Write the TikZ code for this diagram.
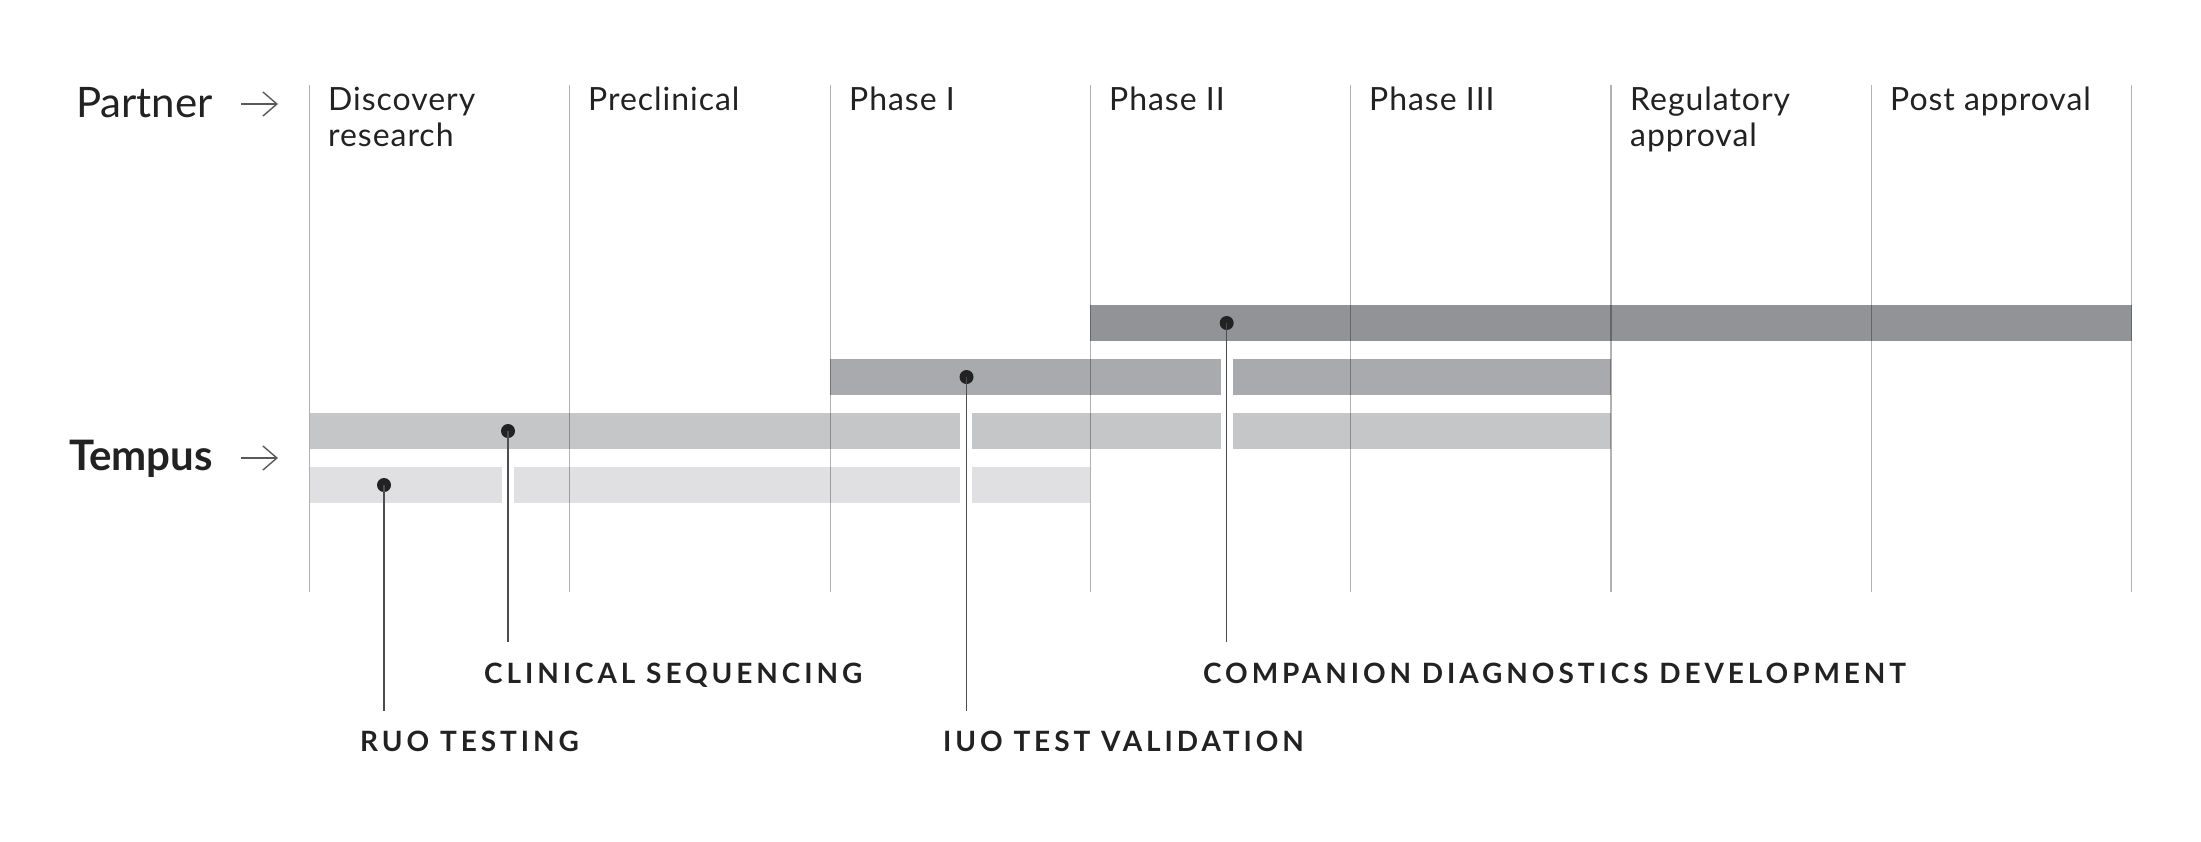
\documentclass[tikz,border=0pt]{standalone}
\usepackage{fontspec}
\setmainfont{Lato}
\newfontfamily\calloutfont[LetterSpace=14]{Lato}
\newfontfamily\phasefont[LetterSpace=3]{Lato}
\usetikzlibrary{positioning,arrows.meta}

\definecolor{barA}{HTML}{929397}
\definecolor{barB}{HTML}{A9AAAD}
\definecolor{barC}{HTML}{C5C6C8}
\definecolor{barD}{HTML}{E0E0E2}
\definecolor{ink}{HTML}{222222}

\begin{document}
\begin{tikzpicture}[x=1pt,y=-1pt,
    phase/.style={
        anchor=north west,
        align=left,
        inner sep=0pt,
        text=ink,
        font=\phasefont\fontsize{32}{36}\selectfont
    },
    side/.style={
        anchor=base east,
        inner sep=0pt,
        text=ink,
        font=\fontsize{42}{46}\selectfont
    },
    callout/.style={
        anchor=base west,
        inner sep=0pt,
        text=ink,
        font=\calloutfont\bfseries\fontsize{28}{30}\selectfont
    },
    pin/.style={
        circle,
        fill=ink,
        inner sep=0pt,
        minimum size=14pt
    },
    leader/.style={
        draw=ink!80,
        line width=1.2pt
    },
    pointer/.style={
        draw=ink!75,
        line width=1.4pt,
        -{Straight Barb[length=14pt,width=24pt]}
    },
    rule/.style={
        draw=black,
        opacity=0.3,
        line width=1.1pt
    }
    ]

    \useasboundingbox (0,0) rectangle (2201,841);

    % row labels
    \node[side] (partner) at (213,117) {Partner};
    \node[side, font=\bfseries\fontsize{42}{46}\selectfont] (tempus) at (213,470) {Tempus};
    \coordinate (partner_tail) at (241,104);
    \coordinate (partner_tip) at (278,104);
    \coordinate (tempus_tail) at (241,458);
    \coordinate (tempus_tip) at (278,458);
    \draw[pointer] (partner_tail) -- (partner_tip);
    \draw[pointer] (tempus_tail) -- (tempus_tip);

    % phases
    \node[phase] (discovery) at (328,87) {Discovery\\research};
    \node[phase] (preclinical) at (588,87) {Preclinical};
    \node[phase] (phase_1) at (849,87) {Phase I};
    \node[phase] (phase_2) at (1109,87) {Phase II};
    \node[phase] (phase_3) at (1369,87) {Phase III};
    \node[phase] (regulatory) at (1630,87) {Regulatory\\approval};
    \node[phase] (post) at (1890,87) {Post approval};

    % bars
    \fill[barA] (1090.4,305) rectangle (2131.6,341);
    \fill[barB] (830.1,359) rectangle (1221,395);
    \fill[barB] (1232.5,359) rectangle (1611,395);
    \fill[barC] (309.5,413) rectangle (960,449);
    \fill[barC] (972,413) rectangle (1221,449);
    \fill[barC] (1232.5,413) rectangle (1611,449);
    \fill[barD] (309.5,467) rectangle (501.5,503);
    \fill[barD] (513.5,467) rectangle (960,503);
    \fill[barD] (972,467) rectangle (1090.4,503);

    % grid
    \draw[rule] (309.5,85) -- (309.5,592);
    \draw[rule] (569.8,85) -- (569.8,592);
    \draw[rule] (830.1,85) -- (830.1,592);
    \draw[rule] (1090.4,85) -- (1090.4,592);
    \draw[rule] (1350.7,85) -- (1350.7,592);
    \draw[rule] (1611,85) -- (1611,592);
    \draw[rule] (1871.3,85) -- (1871.3,592);
    \draw[rule] (2131.6,85) -- (2131.6,592);

    % pins
    \node[pin] (ruo_dot) at (384,485) {};
    \node[pin] (clinical_dot) at (508,431) {};
    \node[pin] (iuo_dot) at (966.5,377) {};
    \node[pin] (cdx_dot) at (1226.7,323) {};
    \coordinate (ruo_end) at (384,711);
    \coordinate (clinical_end) at (508,642);
    \coordinate (iuo_end) at (966.5,711);
    \coordinate (cdx_end) at (1226.7,642);
    \draw[leader] (ruo_dot.center) -- (ruo_end);
    \draw[leader] (clinical_dot.center) -- (clinical_end);
    \draw[leader] (iuo_dot.center) -- (iuo_end);
    \draw[leader] (cdx_dot.center) -- (cdx_end);

    \node[callout] (ruo) at (360,751) {RUO TESTING};
    \node[callout] (clinical) at (484,683) {CLINICAL SEQUENCING};
    \node[callout] (iuo) at (943,751) {IUO TEST VALIDATION};
    \node[callout] (cdx) at (1203,683) {COMPANION DIAGNOSTICS DEVELOPMENT};
\end{tikzpicture}
\end{document}
